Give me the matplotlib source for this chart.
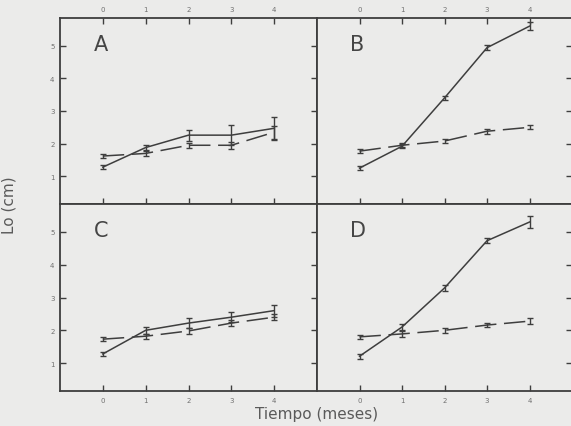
import matplotlib.pyplot as plt

# meses
x = [0, 1, 2, 3, 4]
panels = ["A", "B", "C", "D"]

# longitud (cm): linea continua y linea discontinua por panel
solid = {
    "A": [1.28, 1.88, 2.26, 2.26, 2.47],
    "B": [1.25, 1.92, 3.40, 4.94, 5.60],
    "C": [1.28, 2.00, 2.22, 2.40, 2.60],
    "D": [1.21, 2.10, 3.29, 4.73, 5.30],
}
solid_err = {
    "A": [0.07, 0.09, 0.17, 0.30, 0.35],
    "B": [0.07, 0.06, 0.07, 0.07, 0.12],
    "C": [0.07, 0.10, 0.15, 0.15, 0.18],
    "D": [0.08, 0.10, 0.08, 0.08, 0.18],
}
dashed = {
    "A": [1.62, 1.70, 1.95, 1.95, 2.35],
    "B": [1.77, 1.95, 2.08, 2.38, 2.50],
    "C": [1.73, 1.82, 1.98, 2.22, 2.40],
    "D": [1.80, 1.89, 2.00, 2.16, 2.28],
}
dashed_err = {
    "A": [0.06, 0.07, 0.08, 0.10, 0.20],
    "B": [0.07, 0.06, 0.06, 0.07, 0.06],
    "C": [0.07, 0.08, 0.08, 0.08, 0.10],
    "D": [0.07, 0.08, 0.07, 0.07, 0.08],
}

BG = "#ebebea"
INK = "#3e3e3e"
TXT = "#707070"

fig = plt.figure(figsize=(5.71, 4.27), dpi=100, facecolor=BG)
W, H = 571.0, 427.0
x0, xm, x1 = 60 / W, 317 / W, 572 / W
ytop, ymid, ybot = 1 - 19 / H, 1 - 205 / H, 1 - 392 / H
rects = {
    "A": [x0, ymid, xm - x0, ytop - ymid],
    "B": [xm, ymid, x1 - xm, ytop - ymid],
    "C": [x0, ybot, xm - x0, ymid - ybot],
    "D": [xm, ybot, x1 - xm, ymid - ybot],
}

for p in panels:
    ax = fig.add_axes(rects[p])
    ax.set_facecolor(BG)
    ax.errorbar(x, solid[p], yerr=solid_err[p], color=INK, lw=1.1,
                capsize=2, elinewidth=1.0, capthick=1.0)
    ax.errorbar(x, dashed[p], yerr=dashed_err[p], color=INK, lw=1.1,
                ls=(0, (14, 5)), capsize=2, elinewidth=1.0, capthick=1.0)
    ax.set_xlim(-1, 5)
    ax.set_ylim(0.15, 5.85)
    ax.set_xticks(x)
    ax.set_yticks([1, 2, 3, 4, 5])
    for s in ax.spines.values():
        s.set_color(INK)
        s.set_linewidth(1.3)
    top = p in ("A", "B")
    left = p in ("A", "C")
    ax.tick_params(direction="in", length=4, width=1, color=INK,
                   labelsize=5, labelcolor=TXT,
                   top=top, bottom=True, labeltop=top, labelbottom=not top,
                   left=left, right=True, labelleft=left, labelright=False,
                   pad=4)
    ax.text(-0.22, 5.05, p, fontsize=15, color="#454545",
            va="center", ha="left")

fig.text(0.016, (ytop + ybot) / 2, "Lo (cm)", rotation=90, fontsize=11,
         color="#5a5a5a", ha="center", va="center")
fig.text(317 / W, 1 - 415 / H, "Tiempo (meses)", fontsize=11,
         color="#5a5a5a", ha="center", va="center")

fig.savefig("out.png", dpi=100, facecolor=BG)
